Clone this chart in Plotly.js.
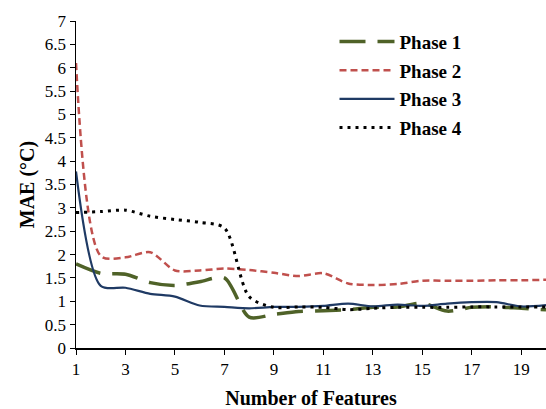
<!DOCTYPE html>
<html>
<head>
<meta charset="utf-8">
<script src="https://cdn.plot.ly/plotly-3.0.1.min.js"></script>
<style>html,body{margin:0;padding:0;background:#fff;}#chart{width:546px;height:409px;}</style>
</head>
<body>
<div id="chart"></div>
<script>
const features = [1,2,3,4,5,6,7,8,9,10,11,12,13,14,15,16,17,18,19,20];
const phase1 = [1.80,1.60,1.58,1.40,1.34,1.42,1.50,0.66,0.72,0.78,0.80,0.82,0.87,0.88,0.96,0.79,0.87,0.88,0.85,0.82];
const phase2 = [6.10,1.97,1.94,2.05,1.66,1.66,1.70,1.67,1.61,1.54,1.60,1.38,1.35,1.37,1.44,1.44,1.44,1.45,1.45,1.46];
const phase3 = [3.78,1.33,1.29,1.16,1.10,0.91,0.88,0.85,0.88,0.88,0.90,0.95,0.89,0.93,0.90,0.95,0.98,0.98,0.89,0.92];
const phase4 = [2.90,2.92,2.95,2.82,2.75,2.69,2.57,1.10,0.87,0.88,0.87,0.82,0.85,0.87,0.87,0.87,0.88,0.88,0.88,0.88];
const seriesNames = ["Phase 1","Phase 2","Phase 3","Phase 4"];
const xTicks = [1,3,5,7,9,11,13,15,17,19];
const yTicks = [0,0.5,1,1.5,2,2.5,3,3.5,4,4.5,5,5.5,6,6.5,7];

const font = "'Liberation Serif', 'Times New Roman', serif";
const traces = [
  {x: features, y: phase1, name: seriesNames[0], legendgroup: "g1", mode: "lines",
   line: {color: "#4F6228", width: 3.5, dash: "26px,12px", shape: "spline", smoothing: 0.8}},
  {x: features, y: phase2, name: seriesNames[1], legendgroup: "g2", mode: "lines",
   line: {color: "#C0504D", width: 2.5, dash: "7px,4px", shape: "spline", smoothing: 0.8}},
  {x: features, y: phase3, name: seriesNames[2], legendgroup: "g3", mode: "lines",
   line: {color: "#1F3A64", width: 2.2, shape: "spline", smoothing: 0.8}},
  {x: features, y: phase4, name: seriesNames[3], legendgroup: "g4", mode: "lines",
   line: {color: "#000000", width: 3, dash: "3px,5px", shape: "spline", smoothing: 0.8}}
];
const layout = {
  width: 546, height: 409,
  margin: {l: 76, r: 0, t: 21, b: 61},
  paper_bgcolor: "#fff", plot_bgcolor: "#fff",
  font: {family: font, size: 16, color: "#000"},
  showlegend: true,
  legend: {x: 0.55, y: 0.995, xanchor: "left", yanchor: "top",
           font: {family: font, size: 19, color: "#000", weight: "bold"},
           bgcolor: "rgba(0,0,0,0)", tracegroupgap: 1, itemwidth: 55},
  xaxis: {range: [1, 20], tickvals: xTicks, ticktext: xTicks.map(String),
          showline: true, linecolor: "#000", linewidth: 1.5, ticks: "outside", ticklen: 5,
          tickcolor: "#000", showgrid: false, zeroline: false,
          tickfont: {family: font, size: 17},
          title: {text: "Number of Features", font: {family: font, size: 20, weight: "bold"}, standoff: 14}},
  yaxis: {range: [0, 7], tickvals: yTicks, ticktext: yTicks.map(String),
          showline: true, linecolor: "#000", linewidth: 1.5, ticks: "outside", ticklen: 5,
          tickcolor: "#000", showgrid: false, zeroline: false,
          tickfont: {family: font, size: 17},
          title: {text: "MAE (°C)", font: {family: font, size: 20, weight: "bold"}, standoff: 5}}
};
Plotly.newPlot("chart", traces, layout, {displayModeBar: false, staticPlot: true});
</script>
</body>
</html>
